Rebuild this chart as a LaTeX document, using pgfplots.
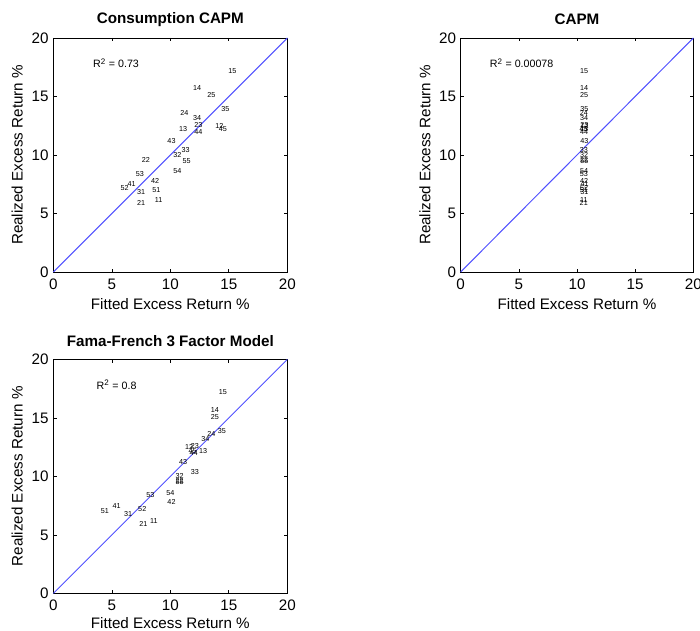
\documentclass[border=0pt]{standalone}
\usepackage{fontspec}
\setmainfont{Liberation Sans}
\usepackage{pgfplots}
\usepackage{pgfplotstable}
\pgfplotsset{compat=1.18}

% realized excess return (ret) and fitted values for the 25 portfolios
\pgfplotstableread{
lab ret  cc   capm  ff
11  6.15 9.0  10.60 8.6
12  12.5 14.2 10.66 11.6
13  12.2 11.1 10.62 12.8
14  15.7 12.3 10.62 13.8
15  17.2 15.3 10.62 14.5
21  5.9  7.5  10.58 7.7
22  9.6  7.9  10.62 10.8
23  12.6 12.4 10.64 12.1
24  13.6 11.2 10.60 13.5
25  15.1 13.5 10.62 13.8
31  6.8  7.5  10.64 6.4
32  10.0 10.6 10.62 10.8
33  10.4 11.3 10.60 12.1
34  13.2 12.3 10.62 13.0
35  13.9 14.7 10.64 14.4
41  7.5  6.7  10.66 5.4
42  7.8  8.7  10.62 10.1
43  11.2 10.1 10.64 11.1
44  12.0 12.4 10.62 12.0
45  12.2 14.5 10.58 11.9
51  7.0  8.8  10.60 4.4
52  7.2  6.1  10.62 7.6
53  8.4  7.4  10.60 8.3
54  8.6  10.6 10.62 10.0
55  9.5  11.4 10.64 10.8
}\data

\definecolor{diag}{RGB}{80,80,255}
\newcommand{\fs}{\fontsize{11.4}{13}\selectfont}

\pgfplotsset{
  panel/.style={
    scale only axis,
    width=175.5pt, height=175.5pt,
    xmin=0, xmax=20, ymin=0, ymax=20,
    xtick={0,5,...,20}, ytick={0,5,...,20},
    tick align=inside, major tick length=2.5pt,
    axis line style={line width=0.6pt},
    every tick/.style={black, line width=0.5pt},
    tick label style={font=\fs},
    /pgf/number format/assume math mode=true,
    xticklabel style={yshift=-1.5pt},
    xlabel={Fitted Excess Return \%},
    ylabel={Realized Excess Return \%},
    label style={font=\fs},
    xlabel style={at={(axis description cs:0.5,-0.137)}, anchor=center},
    ylabel style={at={(axis description cs:-0.154,0.5)}, anchor=center},
    every axis title shift=0pt,
    title style={at={(axis description cs:0.5,1.08)}, anchor=center, font=\fs\bfseries},
    clip=false,
  },
  lbl/.style={
    only marks, mark=none,
    nodes near coords, point meta=explicit symbolic,
    nodes near coords style={anchor=center, inner sep=0pt, font=\fontsize{5.4}{6}\selectfont, black},
  },
}

\begin{document}
\begin{tikzpicture}
\useasboundingbox (0,0) rectangle (525pt,473.25pt);

\begin{axis}[panel, at={(40pt,269.25pt)}, anchor=south west,
  title={Consumption CAPM}]
  \addplot[diag, line width=0.75pt] coordinates {(0,0) (20,20)};
  \addplot[lbl] table[x=cc, y=ret, meta=lab] \data;
  \node[anchor=west, font=\fontsize{8}{9}\selectfont] at (axis cs:3.0,17.85) {R\textsuperscript{2} = 0.73};
\end{axis}

\begin{axis}[panel, at={(345.5pt,269.25pt)}, anchor=south west, width=174.5pt,
  title={CAPM}]
  \addplot[diag, line width=0.75pt] coordinates {(0,0) (20,20)};
  \addplot[lbl] table[x=capm, y=ret, meta=lab] \data;
  \node[anchor=west, font=\fontsize{8}{9}\selectfont] at (axis cs:2.1,17.85) {R\textsuperscript{2} = 0.00078};
\end{axis}

\begin{axis}[panel, at={(40pt,28.2pt)}, anchor=south west,
  title={Fama-French 3 Factor Model},
  xlabel style={at={(axis description cs:0.5,-0.125)}}]
  \addplot[diag, line width=0.75pt] coordinates {(0,0) (20,20)};
  \addplot[lbl] table[x=ff, y=ret, meta=lab] \data;
  \node[anchor=west, font=\fontsize{8}{9}\selectfont] at (axis cs:3.3,17.8) {R\textsuperscript{2} = 0.8};
\end{axis}
\end{tikzpicture}
\end{document}
